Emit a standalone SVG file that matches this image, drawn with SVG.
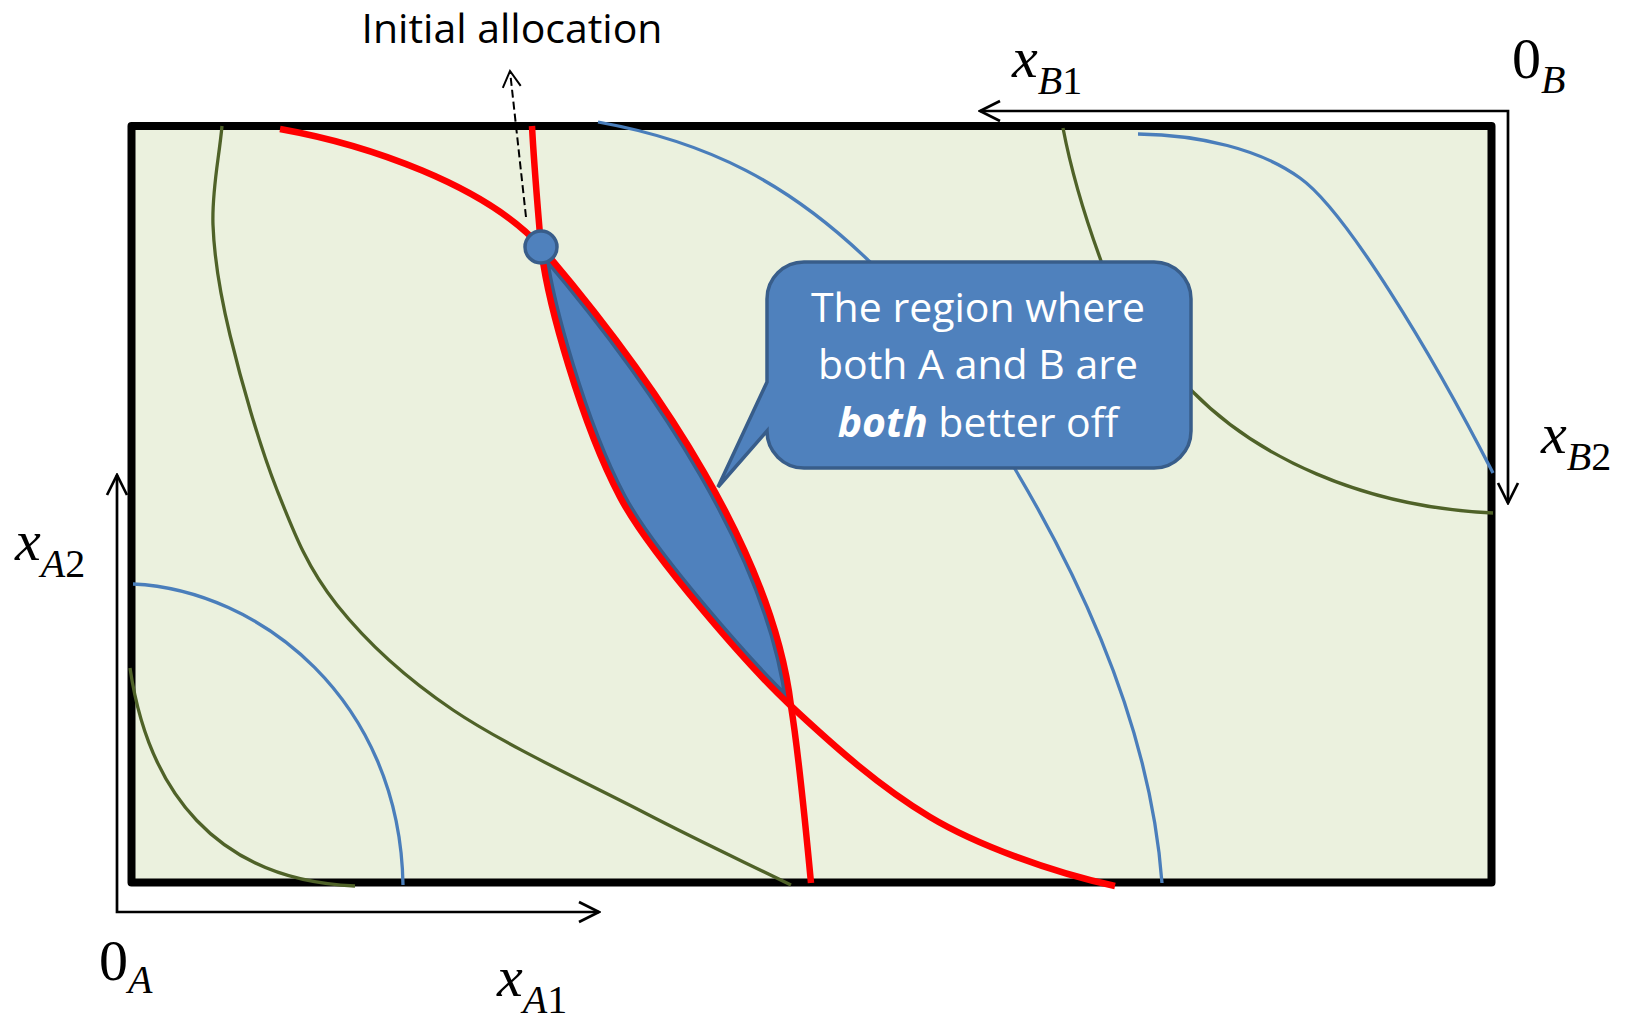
<svg xmlns="http://www.w3.org/2000/svg" width="1627" height="1019" viewBox="0 0 1627 1019">
<style>
.frame{fill:#EBF1DE;stroke:#000;stroke-width:8;stroke-linejoin:round}
.g{fill:none;stroke:#4F6228;stroke-width:3.3}
.b{fill:none;stroke:#4A7EBB;stroke-width:3.3}
.r{fill:none;stroke:#FF0000;stroke-width:6.5}
.axis{fill:none;stroke:#000;stroke-width:2.7}
.m{font-family:"Liberation Serif","Times New Roman",serif;font-size:58px;fill:#000}
.s{font-size:40px}
.i{font-style:italic}
.lbl{font-family:"Open Sans","Liberation Sans",sans-serif;font-size:41px;fill:#000;text-anchor:middle}
.ct{font-family:"Open Sans","Liberation Sans",sans-serif;font-size:41px;fill:#fff;text-anchor:middle}
</style>
<defs>
<marker id="open" viewBox="-24 -13 26 26" markerWidth="26" markerHeight="26" refX="0" refY="0" markerUnits="userSpaceOnUse" orient="auto-start-reverse">
<path d="M -20,-10 L 0,0 L -20,10" fill="none" stroke="#000" stroke-width="2.7"/>
</marker>
<marker id="small" viewBox="-20 -12 22 24" markerWidth="22" markerHeight="24" refX="0" refY="0" markerUnits="userSpaceOnUse" orient="auto">
<path d="M -16,-9 L 0,0 L -16,9" fill="none" stroke="#000" stroke-width="2"/>
</marker>
<clipPath id="lensclip">
<path d="M 541,247 C 661,387 773,556 791,706 C 751,669 650,554 620,497 C 582,425 547,302 541,247 Z"/>
</clipPath>
</defs>

<g id="box">
<rect class="frame" x="131.5" y="126" width="1360" height="756.5"/>
</g>

<g id="axes">
<path id="axisA" class="axis" d="M 117,475 V 912 H 599" marker-start="url(#open)" marker-end="url(#open)"/>
<path id="axisB" class="axis" d="M 980,111 H 1508 V 503" marker-start="url(#open)" marker-end="url(#open)"/>
</g>

<g id="indifference-curves">
<path id="g1" class="g" d="M 222,126 C 219,159 211.7,190.2 213,225 C 214.3,259.8 219.3,290.8 230,335 C 240.7,379.2 259.2,445 277,490 C 294.8,535 307.7,568.3 337,605 C 366.3,641.7 401.7,675.3 453,710 C 504.3,744.7 588.7,783.8 645,813 C 701.3,842.2 742.3,861 791,885"/>
<path id="g2" class="g" d="M 130,668 C 148,790 215,880 355,886"/>
<path id="g3" class="g" d="M 1063,128 C 1072,175 1088,225 1100,258 C 1112,298 1160,360 1193,392 C 1255,455 1360,507 1493,513"/>
<path id="b1" class="b" d="M 133,584 C 260,590 400,700 403,885"/>
<path id="b2" class="b" d="M 598,122 C 710,142 790,185 868,260 C 920,305 985,415 1015,469 C 1075,570 1150,720 1162,883"/>
<path id="b3" class="b" d="M 1138,134 C 1200,135 1260,149 1300,178 C 1345,210 1430,350 1493,473"/>
</g>

<g id="lens">
<path d="M 541,247 C 661,387 773,556 791,706 C 751,669 650,554 620,497 C 582,425 547,302 541,247 Z" fill="#4F81BD" stroke="#385D8A" stroke-width="13" clip-path="url(#lensclip)"/>
</g>

<g id="red-curves">
<path id="redQ" class="r" d="M 280,129 C 367,144.5 485,185 541,247 C 661,387 773,556 791,706 C 799,756 806,830 811,883"/>
<path id="redP" class="r" d="M 532,126 C 534,166 538,210 541,247 C 547,302 582,425 620,497 C 650,554 751,669 791,706 C 836,748 880,787 930,817 C 975,844 1050,872 1115,886"/>
</g>

<g id="connectors">
<path id="pointer" d="M 526,217 L 510,71" fill="none" stroke="#000" stroke-width="2" stroke-dasharray="8,4" marker-end="url(#small)"/>
</g>

<g id="initial-allocation">
<circle cx="541" cy="247" r="16" fill="#4F81BD" stroke="#385D8A" stroke-width="3.5"/>
<text class="lbl" x="512" y="43">Initial allocation</text>
</g>

<g id="callout">
<path d="M 804,262 H 1154 A 37,37 0 0 1 1191,299 V 431 A 37,37 0 0 1 1154,468 H 804 A 37,37 0 0 1 767,431 L 718,487 L 767,382 V 299 A 37,37 0 0 1 804,262 Z" fill="#4F81BD" stroke="#385D8A" stroke-width="3.5"/>
<text class="ct" x="978" y="322">The region where</text>
<text class="ct" x="978" y="379">both A and B are</text>
<text class="ct" x="978" y="437"><tspan font-weight="bold" font-style="italic">both</tspan> better off</text>
</g>

<g id="labels">
<text class="m" x="497" y="996"><tspan class="i">x</tspan><tspan class="s i" dy="17">A</tspan><tspan class="s">1</tspan></text>
<text class="m" x="15" y="560"><tspan class="i">x</tspan><tspan class="s i" dy="17">A</tspan><tspan class="s">2</tspan></text>
<text class="m" x="1012" y="77"><tspan class="i">x</tspan><tspan class="s i" dy="17">B</tspan><tspan class="s">1</tspan></text>
<text class="m" x="1541" y="453"><tspan class="i">x</tspan><tspan class="s i" dy="17">B</tspan><tspan class="s">2</tspan></text>
<text class="m" x="99" y="980">0<tspan class="s i" dy="13">A</tspan></text>
<text class="m" x="1512" y="78">0<tspan class="s i" dy="15">B</tspan></text>
</g>
</svg>
